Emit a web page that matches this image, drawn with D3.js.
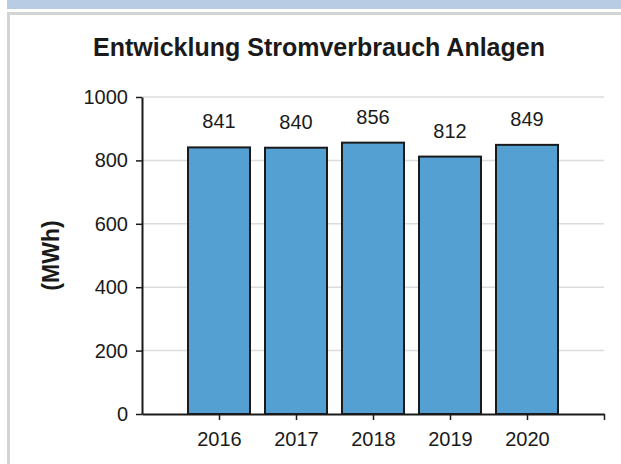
<!DOCTYPE html>
<html>
<head>
<meta charset="utf-8">
<script src="https://cdn.jsdelivr.net/npm/d3@7"></script>
<style>
  body { margin: 0; background: #fff; }
  svg { display: block; font-family: "Liberation Sans", Arial, sans-serif; }
</style>
</head>
<body>
<div id="chart"></div>
<script>
// chart data
var years = [2016, 2017, 2018, 2019, 2020];
var consumption = [841, 840, 856, 812, 849];
var yTicks = [0, 200, 400, 600, 800, 1000];
var chartTitle = "Entwicklung Stromverbrauch Anlagen";
var yLabel = "(MWh)";

var width = 621, height = 464;

var svg = d3.select("#chart")
    .append("svg")
    .attr("width", width)
    .attr("height", height);

// frame: blue strip on top, grey border round the panel
svg.append("rect")
    .attr("x", 7).attr("y", 0)
    .attr("width", width - 7).attr("height", 9)
    .attr("fill", "#b8cce4");

svg.append("rect")
    .attr("x", 7).attr("y", 12)
    .attr("width", 3).attr("height", height - 12)
    .attr("fill", "#d4d4d4");
svg.append("rect")
    .attr("x", 7).attr("y", 12)
    .attr("width", width - 7).attr("height", 3)
    .attr("fill", "#d4d4d4");

// scales
var xScale = d3.scaleLinear()
    .domain([2015, 2021])
    .range([142, 604]);

var yScale = d3.scaleLinear()
    .domain([0, 1000])
    .range([414, 97]);

var barWidth = 62;

// grid lines
svg.append("g")
    .selectAll("line")
    .data(yTicks.filter(function (d) { return d > 0; }))
    .enter()
    .append("line")
    .attr("x1", xScale(2015))
    .attr("x2", xScale(2021))
    .attr("y1", function (d) { return yScale(d); })
    .attr("y2", function (d) { return yScale(d); })
    .attr("stroke", "#dcdcdc")
    .attr("stroke-width", 1.5);

// bars
svg.append("g")
    .selectAll("rect")
    .data(years)
    .enter()
    .append("rect")
    .attr("x", function (d) { return xScale(d) - barWidth / 2; })
    .attr("y", function (d, i) { return yScale(consumption[i]); })
    .attr("width", barWidth)
    .attr("height", function (d, i) { return yScale(0) - yScale(consumption[i]); })
    .attr("fill", "#55a0d3")
    .attr("stroke", "#1a1a1a")
    .attr("stroke-width", 2);

// value labels above the bars
svg.append("g")
    .selectAll("text")
    .data(years)
    .enter()
    .append("text")
    .attr("x", function (d) { return xScale(d); })
    .attr("y", function (d, i) { return yScale(consumption[i]) - 19; })
    .attr("text-anchor", "middle")
    .style("font-size", "20px")
    .attr("fill", "#1a1a1a")
    .text(function (d, i) { return consumption[i]; });

// y axis
var yAxis = svg.append("g")
    .attr("transform", "translate(" + xScale(2015) + ",0)")
    .call(d3.axisLeft(yScale).tickValues(yTicks).tickFormat(d3.format("d"))
        .tickSize(6).tickSizeOuter(0).tickPadding(8));

// x axis, last tick has no label
var xAxis = svg.append("g")
    .attr("transform", "translate(0," + yScale(0) + ")")
    .call(d3.axisBottom(xScale)
        .tickValues(years.concat([2021]))
        .tickFormat(function (d) { return d === 2021 ? "" : d; })
        .tickSize(6).tickSizeOuter(0).tickPadding(12));

[yAxis, xAxis].forEach(function (ax) {
    ax.select(".domain").attr("stroke", "#1a1a1a").attr("stroke-width", 2);
    ax.selectAll(".tick line").attr("stroke", "#1a1a1a").attr("stroke-width", 1.5);
    ax.selectAll(".tick text")
        .style("font-family", "'Liberation Sans', Arial, sans-serif")
        .style("font-size", "20px")
        .attr("fill", "#1a1a1a");
});

// title
svg.append("text")
    .attr("x", 319)
    .attr("y", 56)
    .attr("text-anchor", "middle")
    .style("font-size", "25px")
    .style("font-weight", "bold")
    .attr("fill", "#1a1a1a")
    .text(chartTitle);

// y axis label
svg.append("text")
    .attr("transform", "translate(59," + yScale(500) + ") rotate(-90)")
    .attr("text-anchor", "middle")
    .style("font-size", "23px")
    .style("font-weight", "bold")
    .attr("fill", "#1a1a1a")
    .text(yLabel);
</script>
</body>
</html>
